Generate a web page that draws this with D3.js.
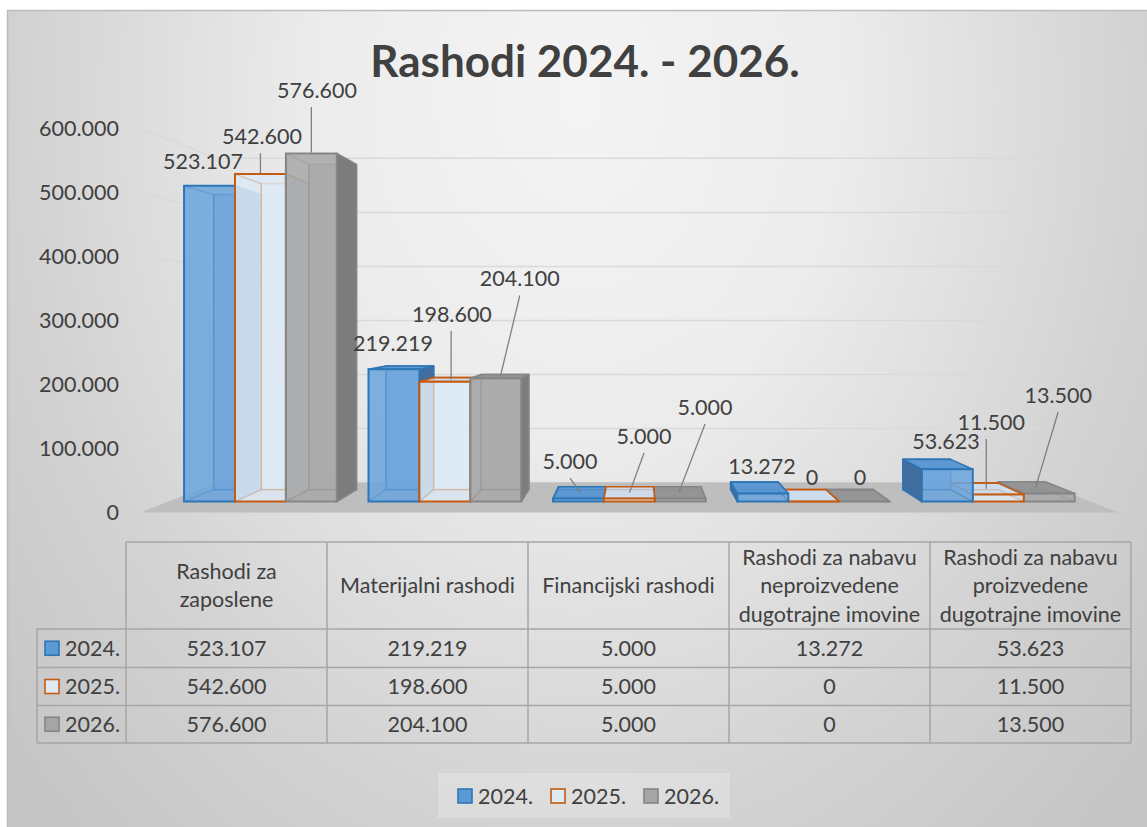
<!DOCTYPE html>
<html><head><meta charset="utf-8">
<script src="https://cdn.jsdelivr.net/npm/d3@7"></script>
<style>
body{margin:0;background:#fff;}
svg{display:block;}
text{font-family:Lato,"Open Sans",sans-serif;fill:#404040;}
</style>
</head><body>
<svg id="chart" width="1147" height="827"></svg>
<script>
// ---------------- DATA ----------------
const title = "Rashodi 2024. - 2026.";
const categories = [
  "Rashodi za zaposlene",
  "Materijalni rashodi",
  "Financijski rashodi",
  "Rashodi za nabavu neproizvedene dugotrajne imovine",
  "Rashodi za nabavu proizvedene dugotrajne imovine"
];
const categoryLines = [
  ["Rashodi za", "zaposlene"],
  ["Materijalni rashodi"],
  ["Financijski rashodi"],
  ["Rashodi za nabavu", "neproizvedene", "dugotrajne imovine"],
  ["Rashodi za nabavu", "proizvedene", "dugotrajne imovine"]
];
const seriesNames = ["2024.", "2025.", "2026."];
const values2024 = [523107, 219219, 5000, 13272, 53623];
const values2025 = [542600, 198600, 5000, 0, 11500];
const values2026 = [576600, 204100, 5000, 0, 13500];
const yTicks = [0, 100000, 200000, 300000, 400000, 500000, 600000];

// ---------------- LAYOUT / STYLE ----------------
const seriesValues = [values2024, values2025, values2026];
// data label offsets (px) from the bar's front-top centre
const labelOffsets = [
  [[-6.5,-24],[-1,-26],[-8.4,-37.5],[-0.9,-27.5],[-1.3,-28]],
  [[1.6,-38],[7,-67.6],[14.7,-62.5],[-1.8,-24.5],[-7,-72.6]],
  [[5.7,-63.5],[24,-100],[24.8,-91.5],[-4.7,-24.5],[9,-98.4]]
];
const styles = [
  {front:"#6ca5dc", top:"#5d98d2", side:"#3f6e9f", stroke:"#2e75b6", swFill:"#5b9bd5"},
  {front:"#dde9f5", top:"#cddcec", side:"#b9cde1", stroke:"#c55a11", swFill:"#deebf7"},
  {front:"#a9a9a9", top:"#959595", side:"#7c7c7c", stroke:"#858585", swFill:"#a5a5a5"}
];
const VP = [635, 320];
const S_FLOOR_BACK = 0.844, S_BAR_FRONT = 0.943, S_BAR_BACK = 0.881;
const FS = 21.5;

const fmt = d3.formatLocale({decimal:",", thousands:".", grouping:[3], currency:["",""]}).format(",.0f");

const svg = d3.select("#chart");
const defs = svg.append("defs");
const grad = defs.append("radialGradient").attr("id","bg")
  .attr("gradientUnits","userSpaceOnUse").attr("cx",580).attr("cy",100).attr("r",750)
  .attr("gradientTransform","translate(580,100) scale(1,1.3) translate(-580,-100)");
grad.append("stop").attr("offset","0").attr("stop-color","#f4f4f4");
grad.append("stop").attr("offset","0.35").attr("stop-color","#ececec");
grad.append("stop").attr("offset","0.75").attr("stop-color","#d2d2d2");
grad.append("stop").attr("offset","1").attr("stop-color","#c6c6c6");

svg.append("rect").attr("x",7.5).attr("y",10.5).attr("width",1145).attr("height",820)
  .attr("fill","url(#bg)").attr("stroke","#bdbdbd").attr("stroke-width",1.5);

// title
svg.append("text").attr("x",585).attr("y",62).attr("dy","0.35em").attr("text-anchor","middle")
  .style("font-size","44px").style("font-weight","bold").text(title);

// scales
const x = d3.scaleBand().domain(categories).range([140,1118]).paddingInner(0).paddingOuter(0);
const xs = d3.scaleBand().domain(seriesNames).range([0, x.bandwidth()]).paddingInner(0).paddingOuter(0.311);
const y = d3.scaleLinear().domain([0,600000]).range([512.5,128.5]);

const proj = (X, Y, s) => [VP[0] + s*(X - VP[0]), VP[1] + s*(Y - VP[1])];
const poly = pts => "M" + pts.map(p => p[0].toFixed(2)+","+p[1].toFixed(2)).join("L") + "Z";

// gridlines (side wall + back wall)
const gx0 = x.range()[0], gx1 = x.range()[1];
svg.append("g").selectAll("path").data(yTicks).join("path")
  .attr("d", t => {
    const Y = y(t);
    const a = proj(gx0, Y, 1), b = proj(gx0, Y, S_FLOOR_BACK), c = proj(gx1, Y, S_FLOOR_BACK);
    return `M${a}L${b}L${c}`;
  })
  .attr("fill","none").attr("stroke","#d9d9d9").attr("stroke-width",1.5);

// floor
svg.append("path").attr("d", poly([proj(gx0,y(0),1), proj(gx1,y(0),1), proj(gx1,y(0),S_FLOOR_BACK), proj(gx0,y(0),S_FLOOR_BACK)]))
  .attr("fill","#bebebe");

// y axis
const yAxis = svg.append("g").attr("transform","translate(119,0)")
  .call(d3.axisLeft(y).tickValues(yTicks).tickFormat(fmt).tickSize(0).tickPadding(0));
yAxis.select(".domain").remove();
yAxis.selectAll("text").style("font-size",FS+"px").style("font-family","Lato,'Open Sans',sans-serif").attr("fill","#404040");

// bars
const bars = [];
seriesValues.forEach((vals, j) => {
  vals.forEach((v, i) => {
    const x0 = x(categories[i]) + xs(seriesNames[j]);
    const x1 = x0 + xs.bandwidth();
    bars.push({i, j, v, x0, x1, yt: y(v), yb: y(0)});
  });
});
bars.sort((a,b) => Math.abs((b.x0+b.x1)/2 - VP[0]) - Math.abs((a.x0+a.x1)/2 - VP[0]));

const gBars = svg.append("g");
bars.forEach(b => {
  const st = styles[b.j];
  const F = (X,Y) => proj(X,Y,S_BAR_FRONT), B = (X,Y) => proj(X,Y,S_BAR_BACK);
  const g = gBars.append("g");
  const faceAttrs = (p, fill) => g.append("path").attr("d", poly(p)).attr("fill", fill)
      .attr("stroke", st.stroke).attr("stroke-width",1.6).attr("stroke-linejoin","round");
  faceAttrs([B(b.x0,b.yt),B(b.x1,b.yt),B(b.x1,b.yb),B(b.x0,b.yb)], st.front).attr("fill-opacity",0.6);
  if (proj(b.x1, 0, S_BAR_FRONT)[0] < VP[0]) faceAttrs([F(b.x1,b.yt),B(b.x1,b.yt),B(b.x1,b.yb),F(b.x1,b.yb)], st.side);
  if (proj(b.x0, 0, S_BAR_FRONT)[0] > VP[0]) faceAttrs([F(b.x0,b.yt),B(b.x0,b.yt),B(b.x0,b.yb),F(b.x0,b.yb)], st.side);
  if (proj(0,b.yt,S_BAR_FRONT)[1] > VP[1]) faceAttrs([F(b.x0,b.yt),F(b.x1,b.yt),B(b.x1,b.yt),B(b.x0,b.yt)], st.top);
  g.append("path").attr("d", poly([F(b.x0,b.yt),F(b.x1,b.yt),F(b.x1,b.yb),F(b.x0,b.yb)]))
    .attr("fill", st.front).attr("fill-opacity",0.88);
  const ghost = [[F(b.x0,b.yb),B(b.x0,b.yb)],[B(b.x0,b.yb),B(b.x1,b.yb)],[B(b.x0,b.yb),B(b.x0,b.yt)],[F(b.x0,b.yt),B(b.x0,b.yt)],[F(b.x1,b.yb),B(b.x1,b.yb)]];
  ghost.forEach(l => g.append("line").attr("x1",l[0][0]).attr("y1",l[0][1]).attr("x2",l[1][0]).attr("y2",l[1][1])
    .attr("stroke", st.stroke).attr("stroke-opacity",0.25).attr("stroke-width",1.3));
  g.append("path").attr("d", poly([F(b.x0,b.yt),F(b.x1,b.yt),F(b.x1,b.yb),F(b.x0,b.yb)]))
    .attr("fill","none").attr("stroke", st.stroke).attr("stroke-width",2);
});

// data labels
const gLab = svg.append("g");
bars.forEach(b => {
  const F = (X,Y) => proj(X,Y,S_BAR_FRONT), B = (X,Y) => proj(X,Y,S_BAR_BACK);
  const ft = F((b.x0+b.x1)/2, b.yt), bt = B((b.x0+b.x1)/2, b.yt);
  const off = labelOffsets[b.j][b.i];
  const lx = ft[0] + off[0], ly = ft[1] + off[1];
  const topVisible = ft[1] > VP[1];
  const tc = topVisible ? [(ft[0]+bt[0])/2, (ft[1]+bt[1])/2] : [ft[0], ft[1] - 1];
  if (ft[1] - (ly + 9) > 22) {
    const sx = Math.abs(tc[0] - lx) < 10 ? tc[0] : lx;
    gLab.append("line").attr("x1", sx).attr("y1", ly + 17).attr("x2", tc[0]).attr("y2", tc[1])
      .attr("stroke","#7f7f7f").attr("stroke-width",1.3);
  }
  gLab.append("text").attr("x", lx).attr("y", ly).attr("dy","0.35em").attr("text-anchor","middle")
    .style("font-size",FS+"px").text(fmt(b.v));
});

// data table
const tLeft = 126, tRight = 1131, keyLeft = 37;
const colW = (tRight - tLeft) / categories.length;
const rowsY = [542, 629, 667.5, 705.5, 743];
const tg = svg.append("g").attr("stroke","#a6a6a6").attr("stroke-width",1.5);
tg.append("line").attr("x1",tLeft).attr("x2",tRight).attr("y1",rowsY[0]).attr("y2",rowsY[0]);
rowsY.slice(1).forEach(yy => tg.append("line").attr("x1",keyLeft).attr("x2",tRight).attr("y1",yy).attr("y2",yy));
tg.append("line").attr("x1",keyLeft).attr("x2",keyLeft).attr("y1",rowsY[1]).attr("y2",rowsY[4]);
d3.range(categories.length + 1).forEach(k => {
  const xx = tLeft + k*colW;
  tg.append("line").attr("x1",xx).attr("x2",xx).attr("y1",rowsY[0]).attr("y2",rowsY[4]);
});
categories.forEach((c, i) => {
  const lines = categoryLines[i];
  const cx = tLeft + (i+0.5)*colW, cy = (rowsY[0]+rowsY[1])/2;
  lines.forEach((ln, k) => {
    svg.append("text").attr("x",cx).attr("y", cy + (k - (lines.length-1)/2)*28.5).attr("dy","0.35em")
      .attr("text-anchor","middle").style("font-size",FS+"px").text(ln);
  });
});
seriesNames.forEach((s, j) => {
  const cy = (rowsY[j+1] + rowsY[j+2]) / 2;
  svg.append("rect").attr("x",45).attr("y",cy-7).attr("width",14).attr("height",14)
    .attr("fill",styles[j].swFill).attr("stroke",styles[j].stroke).attr("stroke-width",1.6);
  svg.append("text").attr("x",65).attr("y",cy).attr("dy","0.35em").style("font-size",FS+"px").text(s);
  seriesValues[j].forEach((v, i) => {
    svg.append("text").attr("x", tLeft + (i+0.5)*colW).attr("y", cy).attr("dy","0.35em")
      .attr("text-anchor","middle").style("font-size",FS+"px").text(fmt(v));
  });
});

// legend
const lg = svg.append("g");
lg.append("rect").attr("x",438).attr("y",773).attr("width",292).attr("height",45)
  .attr("fill","#ffffff").attr("fill-opacity",0.22);
const legX = [458, 551, 644];
seriesNames.forEach((s, j) => {
  lg.append("rect").attr("x",legX[j]).attr("y",789).attr("width",14).attr("height",14)
    .attr("fill",styles[j].swFill).attr("stroke",styles[j].stroke).attr("stroke-width",1.6);
  lg.append("text").attr("x",legX[j]+20).attr("y",796).attr("dy","0.35em").style("font-size",FS+"px").text(s);
});
</script>
</body></html>
